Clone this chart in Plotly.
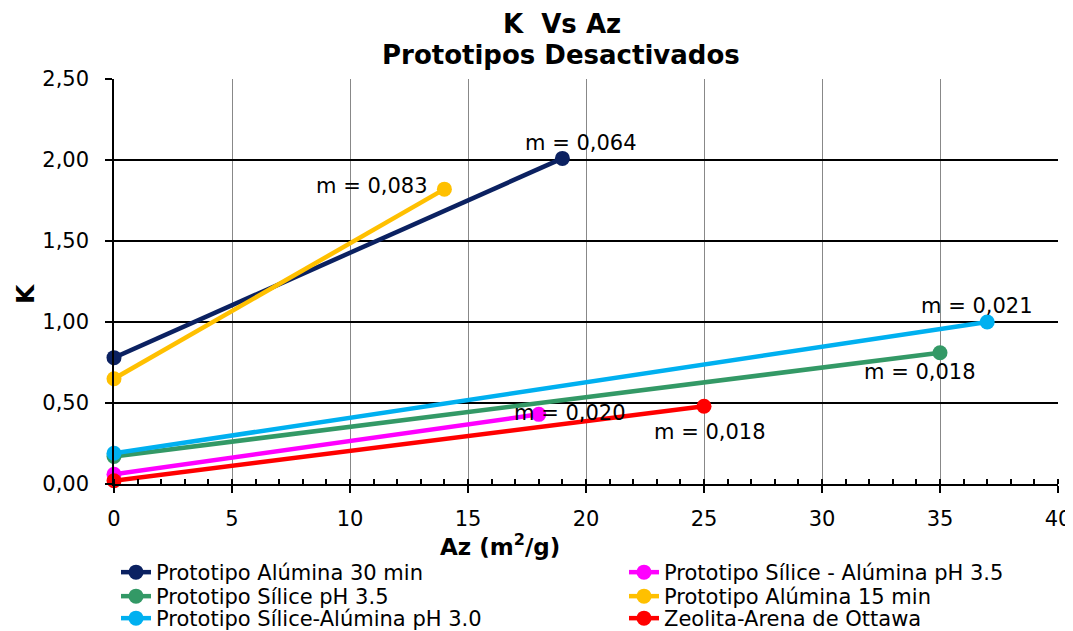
import plotly.graph_objects as go

# Data
series_names = [
    "Prototipo Alúmina 30 min",
    "Prototipo Sílice - Alúmina pH 3.5",
    "Prototipo Sílice pH 3.5",
    "Prototipo Alúmina 15 min",
    "Prototipo Sílice-Alúmina pH 3.0",
    "Zeolita-Arena de Ottawa",
]
series_colors = ["#0B2161", "#FF00FF", "#339966", "#FFC000", "#00B0F0", "#FF0000"]
x_alumina30 = [0, 19]
y_alumina30 = [0.78, 2.01]
x_silal35 = [0, 18]
y_silal35 = [0.06, 0.43]
x_sil35 = [0, 35]
y_sil35 = [0.17, 0.81]
x_alumina15 = [0, 14]
y_alumina15 = [0.65, 1.82]
x_silal30 = [0, 37]
y_silal30 = [0.19, 1.00]
x_zeolita = [0, 25]
y_zeolita = [0.02, 0.48]

xs = [x_alumina30, x_silal35, x_sil35, x_alumina15, x_silal30, x_zeolita]
ys = [y_alumina30, y_silal35, y_sil35, y_alumina15, y_silal30, y_zeolita]

slope_labels = ["m = 0,064", "m = 0,083", "m = 0,021", "m = 0,018", "m = 0,020", "m = 0,018"]
slope_x = [19.8, 10.93, 36.57, 34.15, 19.32, 25.25]
slope_y = [2.105, 1.84, 1.10, 0.69, 0.438, 0.321]

FONT = "DejaVu Sans, Liberation Sans, Arial"
OFF = 8  # page offset of the figure in the browser
L, R, T, B = 106, 23, 71, 155
W, H = 1073, 631
PW, PH = W - L - R, H - T - B


def px_x(px):
    return (px - OFF - L) / PW


def px_y(py):
    return (H - B - (py - OFF)) / PH


fig = go.Figure()
legend_ids = ["legend", "legend2", "legend3", "legend4", "legend5", "legend6"]
for name, color, x, y, lg in zip(series_names, series_colors, xs, ys, legend_ids):
    fig.add_trace(go.Scatter(
        x=x, y=y, name=name, mode="lines+markers",
        line=dict(color=color, width=4.5),
        marker=dict(color=color, size=15),
        cliponaxis=False, legend=lg,
    ))

for t, ax_, ay_ in zip(slope_labels, slope_x, slope_y):
    fig.add_annotation(x=ax_, y=ay_, text=t, showarrow=False, xanchor="center", yanchor="middle",
                       font=dict(family=FONT, size=21, color="black"))

# titles
fig.add_annotation(xref="paper", yref="paper", x=px_x(562), y=px_y(24), text="<b>K  Vs Az</b>",
                   xanchor="center", yanchor="middle",
                   showarrow=False, font=dict(family=FONT, size=26, color="black"))
fig.add_annotation(xref="paper", yref="paper", x=px_x(561), y=px_y(55), text="<b>Prototipos Desactivados</b>",
                   xanchor="center", yanchor="middle",
                   showarrow=False, font=dict(family=FONT, size=26, color="black"))
fig.add_annotation(xref="paper", yref="paper", x=px_x(500), y=px_y(545),
                   text="<b>Az (m<sup>2</sup>/g)</b>", showarrow=False, xanchor="center", yanchor="middle",
                   font=dict(family=FONT, size=23, color="black"))
fig.add_annotation(xref="paper", yref="paper", x=px_x(25), y=px_y(294), text="<b>K</b>",
                   xanchor="center", yanchor="middle",
                   textangle=-90, showarrow=False, font=dict(family=FONT, size=25, color="black"))

legend_common = dict(orientation="v", yref="container", xref="container", yanchor="top", xanchor="left",
                     font=dict(family=FONT, size=21, color="black"), bgcolor="rgba(0,0,0,0)",
                     tracegroupgap=0, itemwidth=30)
col_x = [108, 616]
row_top = [544, 568, 590]
legend_layout = {}
for i, lg in enumerate(legend_ids):
    legend_layout[lg] = dict(x=col_x[i % 2] / W, y=1 - row_top[i // 2] / H, **legend_common)

fig.update_layout(
    width=W, height=H,
    margin=dict(l=L, r=R, t=T, b=B, autoexpand=False),
    paper_bgcolor="white", plot_bgcolor="white",
    separators=",.",
    showlegend=True,
    **legend_layout,
    xaxis=dict(range=[0, 40], dtick=5, tick0=0, showgrid=True, gridcolor="#888888", gridwidth=1,
               zeroline=False, showline=True, linecolor="black", linewidth=1.5,
               ticks="outside", ticklen=7, tickcolor="black", tickwidth=1.5,
               ticklabelstandoff=8, automargin=False,
               minor=dict(dtick=1, ticks="inside", ticklen=5, tickcolor="black", showgrid=False),
               tickfont=dict(family=FONT, size=21, color="black")),
    yaxis=dict(range=[0, 2.5], dtick=0.5, tickformat=".2f", showgrid=True, gridcolor="black", gridwidth=2,
               zeroline=False, showline=True, linecolor="black", linewidth=1.5,
               ticks="outside", ticklen=7, tickcolor="black", tickwidth=1.5,
               ticklabelstandoff=12, automargin=False,
               tickfont=dict(family=FONT, size=21, color="black")),
)

fig.write_html("out.html")
